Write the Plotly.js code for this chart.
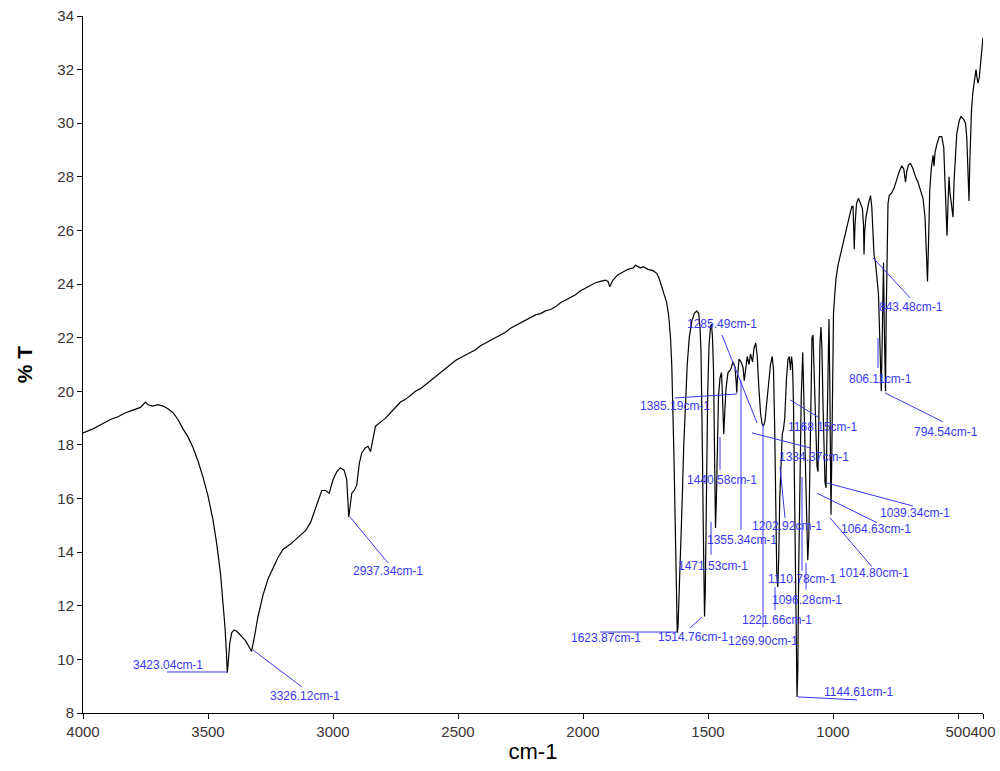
<!DOCTYPE html>
<html>
<head>
<meta charset="utf-8">
<script src="https://cdn.plot.ly/plotly-3.0.1.min.js"></script>
<style>
html,body{margin:0;padding:0;background:#fff;}
#chart{width:1000px;height:771px;}
</style>
</head>
<body>
<div id="chart"></div>
<script>
// ---- Data ----
const wavenumber = [4000,3960,3920,3890,3860,3830,3800,3770,3750,3740,3720,3700,3680,3660,3640,3620,3600,3580,3560,3540,3520,3500,3480,3465,3450,3440,3432,3426,3423,3419,3413,3405,3395,3385,3370,3350,3335,3326,3315,3300,3280,3260,3240,3220,3200,3170,3140,3110,3090,3070,3055,3045,3030,3015,3000,2985,2970,2955,2945,2940,2937,2933,2925,2915,2905,2895,2885,2870,2860,2850,2840,2830,2810,2790,2770,2750,2730,2710,2690,2670,2650,2630,2610,2590,2570,2550,2530,2510,2490,2470,2450,2430,2410,2390,2370,2350,2330,2310,2290,2270,2250,2230,2210,2190,2170,2150,2130,2110,2090,2070,2050,2030,2010,1990,1970,1950,1930,1910,1900,1893,1888,1880,1860,1840,1820,1800,1790,1780,1770,1760,1740,1720,1705,1695,1685,1675,1665,1657,1650,1645,1640,1636,1632,1628,1625,1623,1620,1615,1610,1603,1597,1590,1583,1575,1565,1555,1545,1537,1532,1528,1525,1522,1519,1517,1514,1511,1508,1505,1501,1496,1490,1486,1482,1478,1475,1472,1470,1467,1463,1458,1452,1446,1442,1440,1437,1433,1428,1420,1410,1400,1392,1387,1385,1382,1376,1368,1360,1355,1350,1343,1336,1330,1322,1316,1309,1303,1297,1290,1284,1278,1272,1265,1258,1250,1243,1238,1233,1229,1225,1221,1217,1213,1208,1203,1198,1193,1186,1180,1175,1170,1166,1162,1158,1154,1150,1147,1144,1141,1137,1132,1127,1121,1116,1111,1106,1101,1097,1093,1089,1084,1080,1076,1072,1068,1064,1060,1056,1052,1048,1044,1040,1036,1032,1028,1024,1020,1016,1013,1010,1008,1005,1002,998,993,988,980,970,960,950,940,930,924,920,917,915,912,906,898,890,882,878,876,873,868,858,850,845,841,836,830,824,818,813,809,807,804,801,798,795,793,790,787,784,780,775,765,755,745,735,725,717,710,705,698,690,680,670,660,650,640,632,626,622,618,613,607,600,596,592,585,575,565,557,552,548,544,540,536,532,528,524,520,516,510,505,495,488,478,470,465,462,459,456,453,450,446,440,432,428,424,420,415,410,405,402,400];

const transmittance = [18.45,18.6,18.8,18.95,19.05,19.2,19.3,19.4,19.6,19.5,19.45,19.5,19.45,19.35,19.2,18.95,18.6,18.3,17.9,17.4,16.8,16.1,15.2,14.3,13.2,12.2,11.2,10.2,9.5,9.9,10.6,11.0,11.1,11.05,10.9,10.7,10.45,10.3,10.8,11.6,12.4,13.0,13.4,13.8,14.1,14.3,14.55,14.8,15.1,15.6,16.0,16.3,16.3,16.2,16.7,17.0,17.15,17.05,16.7,16.0,15.3,15.6,16.2,16.3,16.5,17.3,17.7,17.9,17.95,17.75,18.3,18.7,18.85,19.0,19.2,19.4,19.6,19.7,19.85,20.0,20.1,20.25,20.4,20.55,20.7,20.85,21.0,21.15,21.25,21.35,21.45,21.55,21.7,21.8,21.9,22.0,22.1,22.2,22.35,22.45,22.55,22.65,22.75,22.85,22.9,23.0,23.05,23.15,23.3,23.4,23.5,23.6,23.75,23.85,23.95,24.05,24.1,24.15,24.1,23.9,24.0,24.15,24.35,24.45,24.55,24.6,24.7,24.65,24.6,24.65,24.55,24.5,24.4,24.2,23.9,23.6,23.3,22.8,22.0,21.0,19.5,17.5,15.5,13.5,11.8,11.0,11.2,12.5,14.0,16.0,18.0,19.8,21.0,22.0,22.6,22.9,23.0,22.9,22.4,21.5,20.0,17.5,15.0,13.0,11.6,12.5,15.0,17.5,20.0,21.7,22.4,22.5,22.0,20.8,18.5,15.5,14.9,15.8,18.0,19.8,20.5,20.7,19.8,18.5,18.4,19.2,20.1,20.7,20.8,21.1,20.9,20.3,19.95,20.5,21.2,21.1,20.9,20.4,20.9,21.3,21.0,21.4,21.1,21.6,21.8,21.3,20.2,19.2,18.8,18.7,18.9,19.6,20.5,21.0,21.3,20.8,18.5,15.5,13.2,12.7,13.8,16.0,17.5,18.4,18.6,19.0,20.5,21.2,21.3,20.8,21.3,21.0,19.5,17.0,14.0,11.0,8.6,9.5,13.5,17.0,19.8,21.45,19.5,16.5,14.5,13.7,14.5,17.5,20.5,22.0,22.1,21.0,19.5,18.5,17.2,17.0,19.5,21.8,22.4,21.5,19.5,17.5,16.6,16.4,18.5,21.5,22.7,20.5,17.0,15.4,17.5,21.0,22.9,23.6,24.2,24.7,25.1,25.6,26.0,26.4,26.7,26.9,26.9,26.0,25.3,26.2,27.0,27.2,27.0,26.8,26.2,25.1,26.0,26.5,27.0,27.3,26.9,25.8,25.1,24.8,24.2,23.6,22.0,20.5,20.0,21.5,23.0,24.8,22.5,20.5,20.0,23.0,25.5,27.0,27.3,27.4,27.6,27.9,28.2,28.4,28.3,27.8,28.2,28.45,28.5,28.3,28.0,27.8,27.5,27.2,26.5,25.0,24.1,25.5,27.5,28.3,28.8,28.4,28.9,29.2,29.5,29.5,29.1,27.8,26.5,25.8,27.0,28.0,27.4,27.0,26.7,26.5,27.8,29.0,29.6,30.1,30.25,30.15,30.0,29.5,28.6,27.5,27.1,28.5,29.8,30.5,31.2,31.8,32.0,31.7,31.5,31.7,32.3,32.7,33.0,33.2];

const xTickValues = [4000,3500,3000,2500,2000,1500,1000,500,400];
const xTickLabels = ["4000","3500","3000","2500","2000","1500","1000","500","400"];

const peakLabels = ["3423.04cm-1","3326.12cm-1","2937.34cm-1","1623.87cm-1","1514.76cm-1","1269.90cm-1","1221.66cm-1","1096.28cm-1","1110.78cm-1","1014.80cm-1","1064.63cm-1","1039.34cm-1","1202.92cm-1","1355.34cm-1","1471.53cm-1","1440.58cm-1","1385.19cm-1","1285.49cm-1","1334.37cm-1","1168.15cm-1","806.11cm-1","843.48cm-1","794.54cm-1","1144.61cm-1"];

// ---- Label placement (layout): text centre [x,y] and leader line [x1,y1,x2,y2] in axis units ----
const labelPlacement = [
  {t:[3660,9.79],  l:[3664,9.53,3420,9.53]},
  {t:[3112,8.63],  l:[3320,10.35,3124,8.97]},
  {t:[2780,13.3],  l:[2932,15.31,2780,13.6]},
  {t:[1908,10.8],  l:[1932,11.02,1624,11.02]},
  {t:[1560,10.84], l:[1572,11.17,1524,11.58]},
  {t:[1280,10.69], l:[1280,18.78,1280,11.2]},
  {t:[1224,11.47], l:[1232,12.7,1232,11.84]},
  {t:[1104,12.2],  l:[1108,13.6,1108,12.6]},
  {t:[1124,13.0],  l:[1124,16.8,1124,13.3]},
  {t:[836,13.22],  l:[1012,15.28,844,13.45]},
  {t:[828,14.88],  l:[1064,16.2,824,15.1]},
  {t:[672,15.47],  l:[1024,16.58,680,15.72]},
  {t:[1184,14.98], l:[1212,17.18,1192,15.28]},
  {t:[1364,14.46], l:[1368,20.43,1368,14.83]},
  {t:[1480,13.49], l:[1488,15.13,1488,13.9]},
  {t:[1444,16.7],  l:[1452,18.3,1452,17.07]},
  {t:[1632,19.46], l:[1632,19.75,1384,19.9]},
  {t:[1444,22.5],  l:[1444,22.1,1304,18.82]},
  {t:[1076,17.55], l:[1324,18.45,1092,17.89]},
  {t:[1044,18.67], l:[1172,19.68,1060,19.04]},
  {t:[812,20.46],  l:[820,21.99,820,20.87]},
  {t:[688,23.15],  l:[840,24.98,692,23.49]},
  {t:[548,18.49],  l:[792,19.94,560,18.86]},
  {t:[900,8.78],   l:[1140,8.6,904,8.49]}
];

const labelColor = 'rgb(55,55,245)';
const annotations = peakLabels.map((txt,i)=>({
  x: labelPlacement[i].t[0], y: labelPlacement[i].t[1], xref:'x', yref:'y',
  text: txt, showarrow:false, xanchor:'center', yanchor:'middle',
  font:{family:'Liberation Sans, Arial, sans-serif', size:12, color:labelColor}
}));
const shapes = labelPlacement.map(p=>({
  type:'line', xref:'x', yref:'y',
  x0:p.l[0], y0:p.l[1], x1:p.l[2], y1:p.l[3],
  line:{color:labelColor, width:1}
}));

const trace = {
  x: wavenumber, y: transmittance, type:'scatter', mode:'lines',
  line:{color:'#000', width:1.2}, hoverinfo:'skip'
};

const tickFont = {family:'Liberation Sans, Arial, sans-serif', size:15, color:'#3a3333'};
const layout = {
  width:1000, height:771,
  margin:{l:83, r:17, t:16, b:58, pad:0},
  paper_bgcolor:'#fff', plot_bgcolor:'#fff',
  showlegend:false,
  xaxis:{
    range:[4000,400], tickmode:'array', tickvals:xTickValues, ticktext:xTickLabels,
    tickangle:0, ticks:'outside', ticklen:5, tickcolor:'#000', tickwidth:1,
    showline:true, linecolor:'#000', linewidth:1, mirror:false,
    showgrid:false, zeroline:false, tickfont:tickFont, automargin:false,
    title:{text:'cm-1', font:{family:'Liberation Sans, Arial, sans-serif', size:22, color:'#000'}, standoff:4}
  },
  yaxis:{
    range:[8,34], tick0:8, dtick:2, ticks:'outside', ticklen:5, tickcolor:'#000', tickwidth:1,
    showline:true, linecolor:'#000', linewidth:1, mirror:false,
    showgrid:false, zeroline:false, tickfont:tickFont, automargin:false,
    title:{text:'% T', font:{family:'Liberation Sans, Arial, sans-serif', size:21, color:'#000', weight:'bold'}, standoff:18}
  },
  annotations: annotations,
  shapes: shapes
};

Plotly.newPlot('chart', [trace], layout, {staticPlot:true, displayModeBar:false});
</script>
</body>
</html>
